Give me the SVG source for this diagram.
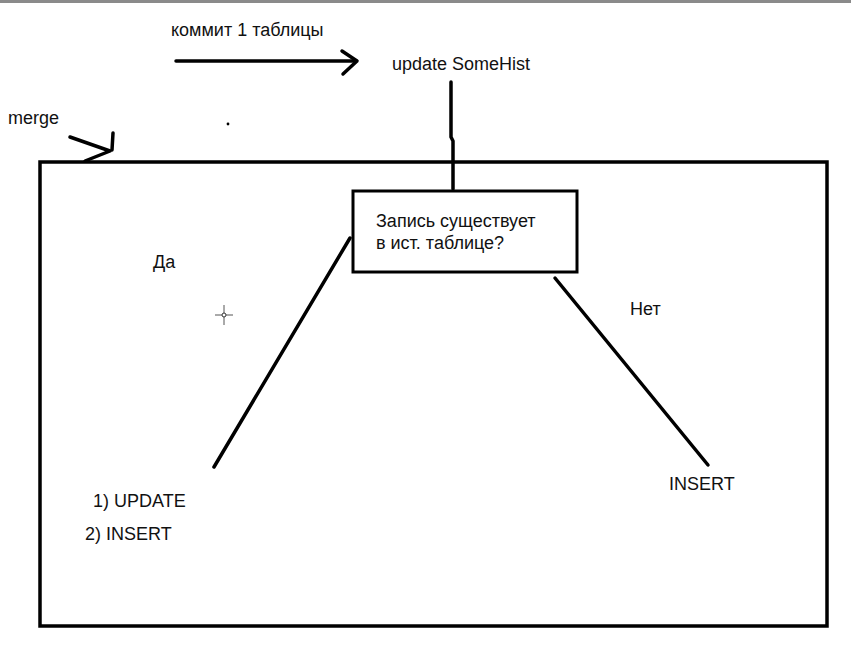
<svg xmlns="http://www.w3.org/2000/svg" width="851" height="651" viewBox="0 0 851 651">
<style>
  .t { font-family: "Liberation Sans", Arial, sans-serif; font-size: 18px; fill: #111; }
  .ln { stroke: #000; stroke-width: 3.5; fill: none; stroke-linecap: round; stroke-linejoin: round; }
  .frame { stroke: #000; stroke-width: 3.5; fill: none; }
</style>
<rect x="0" y="0" width="851" height="651" fill="#fff"/>
<rect x="0" y="0" width="851" height="3" fill="#8a8a8a"/>

<g id="frame">
  <rect class="frame" x="40" y="162" width="787" height="464"/>
</g>

<g id="labels-top">
  <text class="t" x="171" y="36">коммит 1 таблицы</text>
  <text class="t" x="392" y="70">update SomeHist</text>
  <text class="t" x="8" y="124">merge</text>
  <circle cx="228" cy="124" r="1.4" fill="#000"/>
</g>

<g id="decision">
  <rect x="353" y="191" width="224" height="81" fill="#fff" stroke="#000" stroke-width="3"/>
  <text class="t" x="376" y="227">Запись существует</text>
  <text class="t" x="376" y="249">в ист. таблице?</text>
</g>

<g id="yes-branch">
  <text class="t" x="153" y="268">Да</text>
  <text class="t" x="93" y="507">1) UPDATE</text>
  <text class="t" x="85" y="540">2) INSERT</text>
</g>

<g id="no-branch">
  <text class="t" x="630" y="315">Нет</text>
  <text class="t" x="669" y="490">INSERT</text>
</g>

<g id="cursor">
  <line x1="215" y1="315" x2="233" y2="315" stroke="#555" stroke-width="1"/>
  <line x1="224" y1="305" x2="224" y2="325" stroke="#555" stroke-width="1"/>
  <circle cx="224" cy="315" r="2" fill="#fff" stroke="#333" stroke-width="1"/>
</g>

<g id="connectors">
  <line class="ln" x1="176" y1="61" x2="356" y2="61"/>
  <polyline class="ln" points="342,51 357,61 343,74"/>
  <polyline class="ln" points="451,82 451,137 453,141 453,189"/>
  <line class="ln" x1="350" y1="238" x2="214" y2="467"/>
  <line class="ln" x1="555" y1="278" x2="708" y2="465"/>
  <polyline class="ln" points="70,137 110,151 85,161"/>
  <line class="ln" x1="113" y1="133" x2="112" y2="150"/>
</g>
</svg>
